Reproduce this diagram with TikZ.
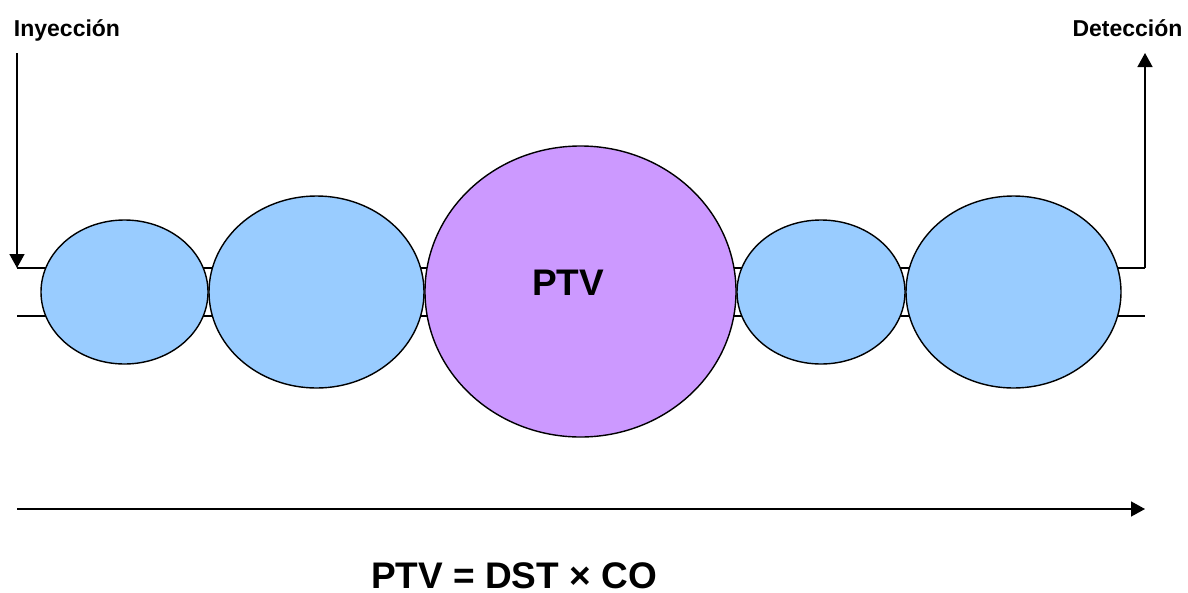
\documentclass[tikz,border=0pt]{standalone}
\usepackage{fontspec}
\setmainfont{Liberation Sans}
\usetikzlibrary{shapes.geometric,arrows.meta}
\definecolor{cellblue}{HTML}{99CCFF}
\definecolor{ptvpurple}{HTML}{CC99FF}
\begin{document}
\begin{tikzpicture}[x=1pt,y=-1pt,line width=1.5pt,
  cell/.style={ellipse,draw=black,fill=cellblue,inner sep=0pt,line width=1.4pt},
  arrowtip/.style={-{Triangle[length=14pt,width=15pt]}},
  smalllbl/.style={font=\bfseries\fontsize{23}{27}\selectfont,inner sep=0pt,anchor=base},
  biglbl/.style={font=\bfseries\fontsize{37}{44}\selectfont,inner sep=0pt,anchor=base}]
\useasboundingbox (0,0) rectangle (1188,592);
% labels
\node[smalllbl] (iny) at (67,36.7) {Inyección};
\node[smalllbl] (det) at (1127.5,36.7) {Detección};
% tube lines
\coordinate (injtop) at (17,53);
\coordinate (injend) at (17,268);
\coordinate (dettop) at (1145,53);
\coordinate (detend) at (1145,268);
\coordinate (botL) at (17,316);
\coordinate (botR) at (1145,316);
\draw[arrowtip] (injtop) -- (injend);
\draw (injend) -- (detend);
\draw[arrowtip] (detend) -- (dettop);
\draw (botL) -- (botR);
% cells
\node[cell,minimum width=167pt,minimum height=144pt] (c1) at (124.5,292) {};
\node[cell,minimum width=215pt,minimum height=192pt] (c2) at (316.5,292) {};
\node[cell,fill=ptvpurple,minimum width=311pt,minimum height=291pt] (c3) at (580.5,291.5) {};
\node[cell,minimum width=168pt,minimum height=144pt] (c4) at (821,292) {};
\node[cell,minimum width=215pt,minimum height=192pt] (c5) at (1013.5,292) {};
\node[biglbl] (ptv) at (568,295) {PTV};
% time axis
\coordinate (axL) at (17,509);
\coordinate (axR) at (1145,509);
\draw[arrowtip] (axL) -- (axR);
% formula
\node[biglbl] (formula) at (514,588) {PTV = DST × CO};
\end{tikzpicture}
\end{document}
